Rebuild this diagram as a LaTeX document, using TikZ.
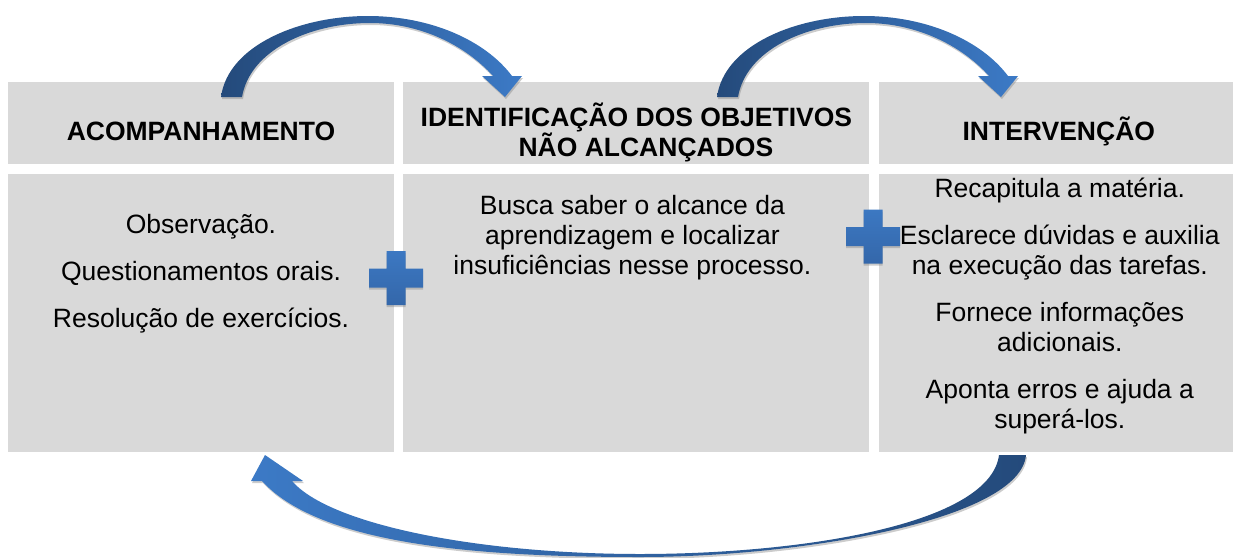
\documentclass[tikz,border=0pt]{standalone}
\usepackage{fontspec}
\setmainfont{Liberation Sans}
\usepackage{tikz}
\usetikzlibrary{positioning, calc, shadows}

\definecolor{panelgray}{HTML}{D9D9D9}
\definecolor{arrowdark}{HTML}{244A7B}
\definecolor{arrowblue}{HTML}{3C7AC6}
\definecolor{plusblue}{HTML}{3C78C2}
\definecolor{plusdark}{HTML}{3467AA}

\begin{document}
\begin{tikzpicture}[x=1pt, y=-1pt, node distance=9pt]
        % Define block styles
        \tikzstyle{headbox} = [rectangle, fill=panelgray, minimum height=82pt, inner sep=0pt]
        \tikzstyle{panelbox} = [rectangle, fill=panelgray, minimum height=278pt, inner sep=0pt]
        \tikzstyle{headtext} = [anchor=base, align=center, inner sep=0pt, font=\fontsize{26.5}{27}\selectfont\bfseries]
        \tikzstyle{bodytext} = [anchor=base, align=center, inner sep=0pt, font=\fontsize{26.5}{30}\selectfont]
        \tikzstyle{curvearrow} = [drop shadow={shadow xshift=1pt, shadow yshift=-2pt, opacity=0.4, fill=gray}]
        \tikzstyle{plussign} = [top color=plusblue, bottom color=plusdark, drop shadow={shadow xshift=0pt, shadow yshift=-2pt, opacity=0.4, fill=gray}]

        \useasboundingbox (0,0) rectangle (1244,557);

        % Place nodes
        \node [headbox, minimum width=386pt] (acomp) at (201,123) {};
        \node [headbox, minimum width=466pt, right=of acomp] (ident) {};
        \node [headbox, minimum width=354pt, right=of ident] (interv) {};
        \node [panelbox, minimum width=386pt, below=10pt of acomp] (acomp_body) {};
        \node [panelbox, minimum width=466pt, below=10pt of ident] (ident_body) {};
        \node [panelbox, minimum width=354pt, below=10pt of interv] (interv_body) {};

        % Draw the curved arrows
        \path [curvearrow, left color=arrowdark, right color=arrowblue] (221,97) .. controls (228,45) and (300,16) .. (368,16) .. controls (430,16) and (485,40) .. (512,76) -- (522,76) -- (505,97) -- (482,76) -- (493,76) .. controls (465,45) and (420,23) .. (370,23) .. controls (310,23) and (250,50) .. (242,97) -- cycle;
        \path [curvearrow, shift={(496,0)}, left color=arrowdark, right color=arrowblue] (221,97) .. controls (228,45) and (300,16) .. (368,16) .. controls (430,16) and (485,40) .. (512,76) -- (522,76) -- (505,97) -- (482,76) -- (493,76) .. controls (465,45) and (420,23) .. (370,23) .. controls (310,23) and (250,50) .. (242,97) -- cycle;
        \path [curvearrow, left color=arrowblue, right color=arrowdark] (1026,455) .. controls (1020,520) and (800,557) .. (640,557) .. controls (480,557) and (320,545) .. (262,481) -- (251,481) -- (265,455) -- (303,481) -- (292,481) .. controls (330,525) and (480,554) .. (640,554) .. controls (800,554) and (990,525) .. (999,455) -- cycle;

        % Plus signs between the panels
        \foreach \pos in {(396,278), (873,236.5)}
            \path [plussign, shift={\pos}] (-27,-9.5) -- (-9.5,-9.5) -- (-9.5,-27) -- (9.5,-27) -- (9.5,-9.5) -- (27,-9.5) -- (27,9.5) -- (9.5,9.5) -- (9.5,27) -- (-9.5,27) -- (-9.5,9.5) -- (-27,9.5) -- cycle;

        % Add the texts (anchored at the baseline of their last line)
        \node [headtext] (acomp_title) at ([yshift=-59pt]acomp.north) {ACOMPANHAMENTO};
        \node [headtext] (ident_title) at ([yshift=-75pt]ident.north) {IDENTIFICAÇÃO DOS OBJETIVOS\\\hspace*{19pt}NÃO ALCANÇADOS};
        \node [headtext] (interv_title) at ([xshift=3pt, yshift=-59pt]interv.north) {INTERVENÇÃO};
        \node [bodytext] (acomp_text) at ([yshift=-153pt]acomp_body.north) {Observação.\\[17pt] Questionamentos orais.\\[17pt] Resolução de exercícios.};
        \node [bodytext] (ident_text) at ([xshift=-4pt, yshift=-100pt]ident_body.north) {Busca saber o alcance da\\ aprendizagem e localizar\\ insuficiências nesse processo.};
        \node [bodytext] (interv_text) at ([xshift=4pt, yshift=-254pt]interv_body.north) {Recapitula a matéria.\\[17pt] Esclarece dúvidas e auxilia\\ na execução das tarefas.\\[17pt] Fornece informações\\ adicionais.\\[17pt] Aponta erros e ajuda a\\ superá-los.};
\end{tikzpicture}
\end{document}
